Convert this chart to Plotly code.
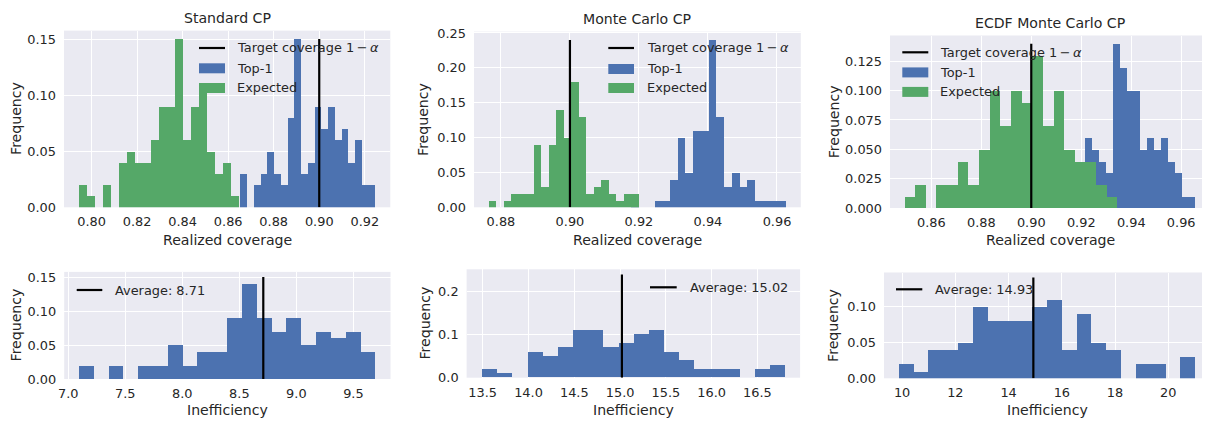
import numpy as np
import plotly.graph_objects as go

# The page adds an 8 px body margin, so the figure is drawn 8 px smaller and
# every pixel position below (measured on the 1210x423 reference) is offset.
W, H = 1210, 423
OFF = 8
FONT = "DejaVu Sans"
TXT = "#262626"
BLUE = "#4C72B0"
GREEN = "#55A868"
BG = "#EAEAF2"

# ---------------- data ----------------
titles = ["Standard CP", "Monte Carlo CP", "ECDF Monte Carlo CP"]
target_coverage = 0.90

# realized coverage histograms (bin range + frequencies, 20 bins)
std_top1_range = (0.8654, 0.9247)
std_top1_freq = [0.03, 0.00, 0.02, 0.03, 0.05, 0.03, 0.02, 0.08, 0.15, 0.03,
                 0.04, 0.09, 0.07, 0.09, 0.06, 0.07, 0.04, 0.06, 0.02, 0.02]
std_exp_range = (0.7944, 0.8647)
std_exp_freq = [0.02, 0.01, 0.00, 0.02, 0.00, 0.04, 0.05, 0.04, 0.04, 0.06,
                0.09, 0.09, 0.15, 0.06, 0.09, 0.11, 0.05, 0.03, 0.04, 0.01]

mc_top1_range = (0.9178, 0.9626)
mc_top1_freq = [0.01, 0.00, 0.00, 0.01, 0.01, 0.04, 0.10, 0.05, 0.11, 0.11,
                0.24, 0.13, 0.03, 0.05, 0.03, 0.04, 0.01, 0.01, 0.01, 0.01]
mc_exp_range = (0.8765, 0.9200)
mc_exp_freq = [0.01, 0.00, 0.01, 0.02, 0.02, 0.02, 0.09, 0.03, 0.09, 0.14,
               0.10, 0.18, 0.13, 0.02, 0.03, 0.04, 0.02, 0.01, 0.02, 0.02]

ecdf_top1_range = (0.9107, 0.9657)
ecdf_top1_freq = [0.01, 0.01, 0.02, 0.01, 0.06, 0.05, 0.04, 0.03, 0.14, 0.12,
                  0.10, 0.10, 0.05, 0.06, 0.05, 0.06, 0.04, 0.03, 0.01, 0.01]
ecdf_exp_range = (0.8493, 0.9345)
ecdf_exp_freq = [0.01, 0.02, 0.00, 0.02, 0.02, 0.04, 0.02, 0.05, 0.10, 0.07,
                 0.10, 0.09, 0.13, 0.07, 0.10, 0.05, 0.04, 0.04, 0.02, 0.01]

# inefficiency histograms
std_ineff_range = (7.095, 9.695)
std_ineff_freq = [0.02, 0.00, 0.02, 0.00, 0.02, 0.02, 0.05, 0.02, 0.04, 0.04,
                  0.09, 0.14, 0.09, 0.07, 0.09, 0.05, 0.07, 0.06, 0.07, 0.04]
std_ineff_avg = 8.71

mc_ineff_range = (13.49, 16.80)
mc_ineff_freq = [0.02, 0.01, 0.00, 0.06, 0.05, 0.07, 0.11, 0.11, 0.07, 0.08,
                 0.10, 0.11, 0.06, 0.04, 0.02, 0.02, 0.02, 0.00, 0.02, 0.03]
mc_ineff_avg = 15.02

ecdf_ineff_range = (9.876, 21.01)
ecdf_ineff_freq = [0.02, 0.01, 0.04, 0.04, 0.05, 0.10, 0.08, 0.08, 0.08, 0.10,
                   0.11, 0.04, 0.09, 0.05, 0.04, 0.00, 0.02, 0.02, 0.00, 0.03]
ecdf_ineff_avg = 14.93

# tick labels
cov_xticks = [[0.80, 0.82, 0.84, 0.86, 0.88, 0.90, 0.92],
              [0.88, 0.90, 0.92, 0.94, 0.96],
              [0.86, 0.88, 0.90, 0.92, 0.94, 0.96]]
cov_yticks = [[0.00, 0.05, 0.10, 0.15],
              [0.00, 0.05, 0.10, 0.15, 0.20, 0.25],
              [0.000, 0.025, 0.050, 0.075, 0.100, 0.125]]
ineff_xticks = [[7.0, 7.5, 8.0, 8.5, 9.0, 9.5],
                [13.5, 14.0, 14.5, 15.0, 15.5, 16.0, 16.5],
                [10, 12, 14, 16, 18, 20]]
ineff_yticks = [[0.00, 0.05, 0.10, 0.15],
                [0.0, 0.1, 0.2],
                [0.00, 0.05, 0.10]]
cov_xfmt = [".2f", ".2f", ".2f"]
cov_yfmt = [".2f", ".2f", ".3f"]
ineff_xfmt = [".1f", ".1f", "d"]
ineff_yfmt = [".2f", ".1f", ".2f"]

# ---------------- layout geometry (pixels in the reference) ----------------
# (left, right, top, bottom)
panel_px = [
    (64.0, 390.3, 30.6, 207.3),
    (474.0, 800.8, 31.6, 207.3),
    (890.0, 1210.0, 35.5, 208.0),
    (64.2, 390.5, 271.9, 379.0),
    (466.6, 800.1, 269.3, 377.7),
    (884.0, 1210.0, 272.5, 378.3),
]

FW, FH = W - OFF, H - OFF


def px(x):
    return (x - OFF) / FW


def py(y):
    return 1 - (y - OFF) / FH


def bar(rng, freq, color, k):
    e = np.linspace(rng[0], rng[1], len(freq) + 1)
    c = (e[:-1] + e[1:]) / 2
    w = e[1] - e[0]
    sfx = "" if k == 1 else str(k)
    return go.Bar(x=c, y=freq, width=[w] * len(freq),
                  marker=dict(color=color, line=dict(width=0)),
                  xaxis="x" + sfx, yaxis="y" + sfx, showlegend=False,
                  hoverinfo="skip")


def vline(xv, top, k):
    sfx = "" if k == 1 else str(k)
    return go.Scatter(x=[xv, xv], y=[0, top], mode="lines",
                      line=dict(color="black", width=2.2),
                      xaxis="x" + sfx, yaxis="y" + sfx, showlegend=False,
                      hoverinfo="skip")


fig = go.Figure()

top_sets = [
    (std_top1_range, std_top1_freq, std_exp_range, std_exp_freq),
    (mc_top1_range, mc_top1_freq, mc_exp_range, mc_exp_freq),
    (ecdf_top1_range, ecdf_top1_freq, ecdf_exp_range, ecdf_exp_freq),
]
bot_sets = [
    (std_ineff_range, std_ineff_freq, std_ineff_avg),
    (mc_ineff_range, mc_ineff_freq, mc_ineff_avg),
    (ecdf_ineff_range, ecdf_ineff_freq, ecdf_ineff_avg),
]

layout_axes = {}
X_STANDOFF = 5
Y_STANDOFF = 7


def axis_style(tickvals, fmt):
    return dict(showgrid=True, gridcolor="white", gridwidth=1.1,
                zeroline=False, showline=False, ticks="",
                tickvals=tickvals, tickformat=fmt,
                tickfont=dict(size=12.9, color=TXT, family=FONT),
                automargin=False, fixedrange=True)


top_max = []
for i, (r1, f1, r2, f2) in enumerate(top_sets):
    k = i + 1
    fig.add_trace(bar(r1, f1, BLUE, k))
    fig.add_trace(bar(r2, f2, GREEN, k))
    ymax = max(max(f1), max(f2))
    top_max.append(ymax)
    fig.add_trace(vline(target_coverage, ymax, k))
    lo = min(r1[0], r2[0])
    hi = max(r1[1], r2[1])
    pad = 0.05 * (hi - lo)
    l, r, t, b = panel_px[i]
    sfx = "" if k == 1 else str(k)
    xa = axis_style(cov_xticks[i], cov_xfmt[i])
    xa.update(domain=[px(l), min(px(r), 1)], range=[lo - pad, hi + pad],
              anchor="y" + sfx, ticklabelstandoff=X_STANDOFF)
    ya = axis_style(cov_yticks[i], cov_yfmt[i])
    ya.update(domain=[py(b), py(t)], range=[0, ymax * 1.05],
              anchor="x" + sfx, ticklabelstandoff=Y_STANDOFF)
    layout_axes["xaxis" + sfx] = xa
    layout_axes["yaxis" + sfx] = ya

for i, (rg, fq, avg) in enumerate(bot_sets):
    k = i + 4
    fig.add_trace(bar(rg, fq, BLUE, k))
    top = top_max[i]
    fig.add_trace(vline(avg, top, k))
    lo, hi = rg
    pad = 0.05 * (hi - lo)
    ymax = max(max(fq), top)
    l, r, t, b = panel_px[k - 1]
    sfx = str(k)
    xa = axis_style(ineff_xticks[i], ineff_xfmt[i])
    xa.update(domain=[px(l), min(px(r), 1)], range=[lo - pad, hi + pad],
              anchor="y" + sfx, ticklabelstandoff=X_STANDOFF)
    ya = axis_style(ineff_yticks[i], ineff_yfmt[i])
    ya.update(domain=[py(b), py(t)], range=[0, ymax * 1.05],
              anchor="x" + sfx, ticklabelstandoff=Y_STANDOFF)
    layout_axes["xaxis" + sfx] = xa
    layout_axes["yaxis" + sfx] = ya

# ---------------- annotations (titles, labels, legends) ----------------
ann = []
shapes = []


def text(x, y, s, size=14.1, xanchor="center", angle=0):
    ann.append(dict(x=px(x), y=py(y), xref="paper", yref="paper", text=s,
                    showarrow=False, xanchor=xanchor, yanchor="middle",
                    textangle=angle,
                    font=dict(family=FONT, size=size, color=TXT)))


title_y = [18.3, 18.6, 22.6]
for i in range(3):
    l, r, t, b = panel_px[i]
    text((l + r) / 2, title_y[i], titles[i])
    text((l + r) / 2, b + 32.3, "Realized coverage")
for i in range(3, 6):
    l, r, t, b = panel_px[i]
    text((l + r) / 2, 410.0, "Inefficiency")

ylab_x = [16.0, 423.5, 833.5, 16.0, 424.0, 833.5]
for i in range(6):
    l, r, t, b = panel_px[i]
    text(ylab_x[i], (t + b) / 2, "Frequency", angle=-90)


def leg_line(x0, x1, y):
    shapes.append(dict(type="line", xref="paper", yref="paper",
                       x0=px(x0), x1=px(x1), y0=py(y), y1=py(y),
                       line=dict(color="black", width=2.2)))


def leg_patch(x0, x1, y, color):
    shapes.append(dict(type="rect", xref="paper", yref="paper",
                       x0=px(x0), x1=px(x1), y0=py(y - 5), y1=py(y + 5),
                       line=dict(width=0), fillcolor=color))


cov_label = "Target coverage 1\u2009\u2212\u2009<i>α</i>"
cov_legends = [
    (199.0, 225.0, 235.0, [48.0, 68.3, 88.0]),
    (608.3, 634.0, 645.0, [48.0, 69.0, 88.0]),
    (902.3, 928.3, 938.3, [52.3, 72.4, 91.9]),
]
for (x0, x1, tx, rows) in cov_legends:
    leg_line(x0, x1, rows[0])
    leg_patch(x0, x1, rows[1], BLUE)
    leg_patch(x0, x1, rows[2], GREEN)
    text(tx, rows[0], cov_label, size=12.9, xanchor="left")
    text(tx, rows[1], "Top-1", size=12.9, xanchor="left")
    text(tx, rows[2], "Expected", size=12.9, xanchor="left")

ineff_legends = [
    (76.7, 102.3, 113.3, 290.0, std_ineff_avg),
    (650.0, 676.7, 687.7, 287.3, mc_ineff_avg),
    (896.0, 922.3, 932.7, 289.3, ecdf_ineff_avg),
]
for (x0, x1, tx, yy, avg) in ineff_legends:
    leg_line(x0, x1, yy)
    text(tx, yy, f"Average: {avg:.2f}", size=12.9, xanchor="left")

fig.update_layout(
    width=FW, height=FH,
    margin=dict(l=0, r=0, t=0, b=0),
    paper_bgcolor="white", plot_bgcolor=BG,
    barmode="overlay", bargap=0,
    font=dict(family=FONT, color=TXT),
    annotations=ann, shapes=shapes,
    showlegend=False,
    **layout_axes,
)

fig.write_html("out.html")
